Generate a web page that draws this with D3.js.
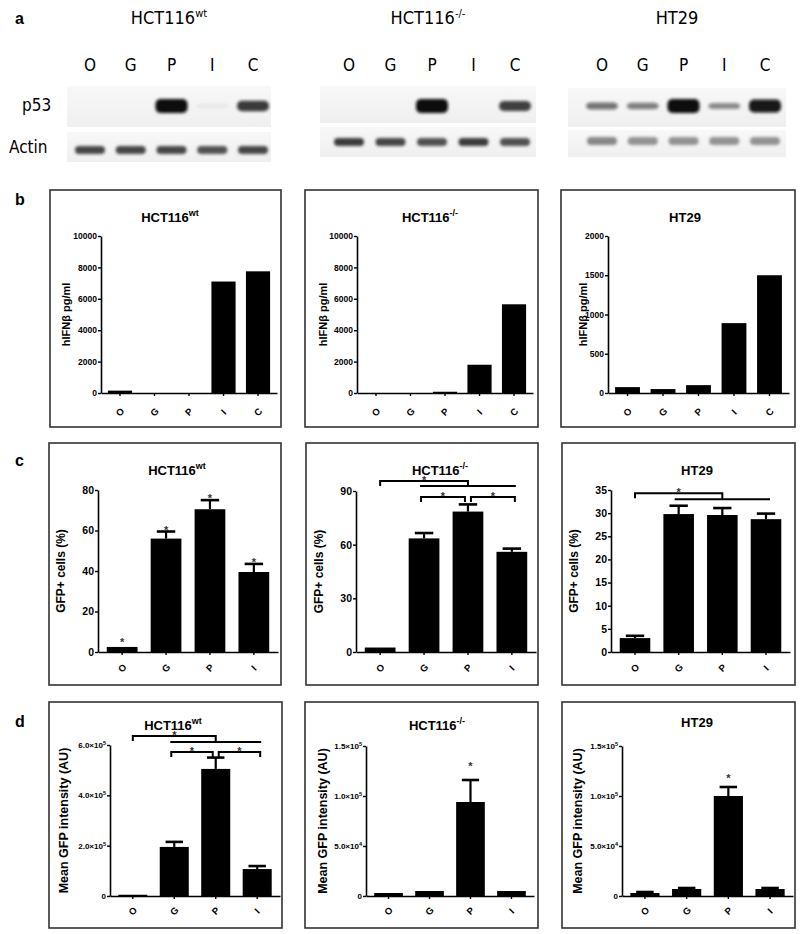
<!DOCTYPE html>
<html>
<head>
<meta charset="utf-8">
<script src="https://cdn.jsdelivr.net/npm/d3@7"></script>
<style>
body{margin:0;background:#fff}
svg{display:block}
.narrow{font-family:"Liberation Sans Narrow","Arial Narrow","DejaVu Sans Condensed",sans-serif}
.chart text{font-family:"Liberation Sans Narrow","Arial Narrow",Arial,sans-serif;font-weight:bold;fill:#000}
</style>
</head>
<body>
<svg id="fig" width="800" height="934"></svg>
<script>
// ---- panel a : western blots (band strength read by eye, 0..1)
var lanes = ["O","G","P","I","C"];
var lineNames = ["HCT116","HCT116","HT29"];
var lineSups = ["wt","-/-",""];
var p53Wt = [0,0,1,0.05,0.8];
var p53Null = [0,0,1,0,0.78];
var p53Ht = [0.55,0.5,1,0.45,0.95];
var actinWt = [0.8,0.8,0.8,0.75,0.8];
var actinNull = [0.85,0.8,0.75,0.85,0.75];
var actinHt = [0.5,0.45,0.45,0.45,0.45];

// ---- panel b : hIFNb pg/ml
var catsB = ["O","G","P","I","C"];
var ifnWt = [150,0,0,7100,7750];
var ifnNull = [0,0,80,1800,5650];
var ifnHt = [75,50,100,890,1500];
var ticksIfn = [0,2000,4000,6000,8000,10000];
var ticksIfnHt = [0,500,1000,1500,2000];

// ---- panel c : GFP+ cells (%)
var catsC = ["O","G","P","I"];
var gfpWt = [2.5,56,70.5,39.5], gfpWtErr = [0,3.5,4.5,4], gfpWtStar = [1,1,1,1];
var gfpNull = [2.5,63.5,78.5,56], gfpNullErr = [0,3,4,1.8];
var gfpHt = [3,29.8,29.6,28.7], gfpHtErr = [0.5,1.8,1.5,1.2];
var ticksGfpWt = [0,20,40,60,80];
var ticksGfpNull = [0,30,60,90];
var ticksGfpHt = [0,5,10,15,20,25,30,35];

// ---- panel d : mean GFP intensity (AU)
var mfiWt = [5000,195000,505000,107000], mfiWtErr = [0,20000,45000,12000];
var mfiNull = [3000,5000,94000,5000], mfiNullErr = [0,0,22000,0], mfiNullStar = [0,0,1,0];
var mfiHt = [3000,7000,100000,7000], mfiHtErr = [1000,1000,9000,1000], mfiHtStar = [0,0,1,0];
var ticksMfiWt = [0,200000,400000,600000];
var ticksMfi = [0,50000,100000,150000];

// significance brackets (levels in data units)
var brGfpNull = [{from:"O",join:"P",span:["G","I"],v1:95.6,v2:92.8},
                 {a:"G",b:"P",v:86.6},{a:"P",b:"I",v:86.6}];
var brGfpHt = [{from:"O",join:"P",span:["G","I"],v1:34.3,v2:33}];
var brMfiWt = [{from:"O",join:"P",span:["G","I"],v1:636000,v2:612000},
               {a:"G",b:"P",v:572000},{a:"P",b:"I",v:572000}];

var svg = d3.select("#fig");
var defs = svg.append("defs");
defs.append("filter").attr("id","blur").attr("x","-50%").attr("y","-150%")
    .attr("width","200%").attr("height","400%")
  .append("feGaussianBlur").attr("stdDeviation",1.6);
var grad = defs.append("linearGradient").attr("id","blotbg").attr("x1",0).attr("x2",0).attr("y1",0).attr("y2",1);
grad.append("stop").attr("offset","0%").attr("stop-color","#f8f8f8");
grad.append("stop").attr("offset","100%").attr("stop-color","#efefef");

// panel letters
[["a",24],["b",205],["c",466],["d",727]].forEach(function(p){
  svg.append("text").attr("x",15).attr("y",p[1])
    .style("font","bold 16px 'Liberation Sans',Arial,sans-serif").text(p[0]);
});

// ================= panel a
var blots = [
  {x0:67,x1:271,l0:90,l1:253,pY:[86,127],aY:[132,162],pC:106,aC:150,p53:p53Wt,act:actinWt},
  {x0:320,x1:536,l0:349,l1:515,pY:[86,123],aY:[127,157],pC:106,aC:142,p53:p53Null,act:actinNull},
  {x0:568,x1:786,l0:602,l1:765,pY:[88,127],aY:[130,157],pC:106,aC:141,p53:p53Ht,act:actinHt}
];

blots.forEach(function(b,k){
  var lx = d3.scalePoint().domain(lanes).range([b.l0,b.l1]);
  var g = svg.append("g").attr("class","narrow");

  var t = g.append("text").attr("x",(b.x0+b.x1)/2).attr("y",24)
    .attr("text-anchor","middle").style("font-size","18px").text(lineNames[k]);
  if(lineSups[k]) t.append("tspan").attr("dy",-7).style("font-size","11px").text(lineSups[k]);

  g.selectAll(".lane").data(lanes).enter().append("text")
    .attr("x",function(d){return lx(d);}).attr("y",71)
    .attr("text-anchor","middle").style("font-size","17px").text(function(d){return d;});

  g.append("rect").attr("x",b.x0).attr("y",b.pY[0]).attr("width",b.x1-b.x0)
    .attr("height",b.pY[1]-b.pY[0]).attr("fill","url(#blotbg)");
  g.append("rect").attr("x",b.x0).attr("y",b.aY[0]).attr("width",b.x1-b.x0)
    .attr("height",b.aY[1]-b.aY[0]).attr("fill","url(#blotbg)");

  g.selectAll(".p53").data(b.p53).enter().append("rect")
    .attr("x",function(d,i){return lx(lanes[i])-16;})
    .attr("width",32)
    .attr("y",function(d){return b.pC-(2+5*d*d);})
    .attr("height",function(d){return 4+10*d*d;})
    .attr("rx",5).attr("fill","#0b0b0b").attr("opacity",function(d){return d;})
    .attr("filter","url(#blur)");

  g.selectAll(".act").data(b.act).enter().append("rect")
    .attr("x",function(d,i){return lx(lanes[i])-15;})
    .attr("width",30)
    .attr("y",b.aC-4).attr("height",8)
    .attr("rx",4).attr("fill","#1a1a1a").attr("opacity",function(d){return d;})
    .attr("filter","url(#blur)");
});
svg.append("text").attr("class","narrow").attr("x",22).attr("y",111).style("font-size","17px").text("p53");
svg.append("text").attr("class","narrow").attr("x",9).attr("y",153).style("font-size","17px").text("Actin");

// ================= bar panels
function sci(v){
  if(v===0) return ["0",""];
  var e = Math.floor(Math.log10(v)+1e-9);
  return [d3.format(".1f")(v/Math.pow(10,e))+"×10", String(e)];
}

var panels = [
  {box:[50,190,231,237],ax:101,x1:277,yTop:236,yBase:393,cats:catsB,vals:ifnWt,ticks:ticksIfn,
   tx:170,ty:222,title:["HCT116","wt"],ylab:"hIFNβ pg/ml",ylx:66,tfs:8.5,lfs:11,xoff:19},
  {box:[305,190,233,237],ax:357,x1:533,yTop:236,yBase:393,cats:catsB,vals:ifnNull,ticks:ticksIfn,
   tx:430,ty:222,title:["HCT116","-/-"],ylab:"hIFNβ pg/ml",ylx:323,tfs:8.5,lfs:11,xoff:19},
  {box:[561,190,234,237],ax:608,x1:789,yTop:236,yBase:393,cats:catsB,vals:ifnHt,ticks:ticksIfnHt,
   tx:685,ty:222,title:["HT29",""],ylab:"hIFNβ pg/ml",ylx:583,tfs:8.5,lfs:11,xoff:19},

  {box:[49,443,232,242],ax:98,x1:278,yTop:490,yBase:652,cats:catsC,vals:gfpWt,err:gfpWtErr,star:gfpWtStar,
   starGap:5,ticks:ticksGfpWt,tx:177,ty:475,title:["HCT116","wt"],ylab:"GFP+ cells (%)",ylx:61,tfs:10.5,lfs:12,xoff:16},
  {box:[306,443,232,242],ax:356,x1:536,yTop:491,yBase:652,cats:catsC,vals:gfpNull,err:gfpNullErr,br:brGfpNull,
   ticks:ticksGfpNull,tx:440,ty:475,title:["HCT116","-/-"],ylab:"GFP+ cells (%)",ylx:319,tfs:10.5,lfs:12,xoff:16},
  {box:[562,443,233,242],ax:611,x1:790,yTop:490,yBase:652,cats:catsC,vals:gfpHt,err:gfpHtErr,br:brGfpHt,
   ticks:ticksGfpHt,tx:697,ty:475,title:["HT29",""],ylab:"GFP+ cells (%)",ylx:574,tfs:10.5,lfs:12,xoff:16},

  {box:[49,702,233,226],ax:110,x1:280,yTop:745,yBase:896,cats:catsC,vals:mfiWt,err:mfiWtErr,br:brMfiWt,
   ticks:ticksMfiWt,sci:true,tx:173,ty:730,title:["HCT116","wt"],ylab:"Mean GFP intensity (AU)",ylx:64,tfs:8,lfs:12.5,xoff:15},
  {box:[305,702,233,226],ax:366,x1:534,yTop:746,yBase:896,cats:catsC,vals:mfiNull,err:mfiNullErr,star:mfiNullStar,
   starGap:17,ticks:ticksMfi,sci:true,tx:437,ty:730,title:["HCT116","-/-"],ylab:"Mean GFP intensity (AU)",ylx:323,tfs:8,lfs:12.5,xoff:15},
  {box:[562,702,233,226],ax:622,x1:793,yTop:746,yBase:896,cats:catsC,vals:mfiHt,err:mfiHtErr,star:mfiHtStar,
   starGap:12,ticks:ticksMfi,sci:true,tx:697,ty:727,title:["HT29",""],ylab:"Mean GFP intensity (AU)",ylx:578,tfs:8,lfs:12.5,xoff:15}
];

panels.forEach(function(p){
  var g = svg.append("g").attr("class","chart");

  g.append("rect").attr("x",p.box[0]).attr("y",p.box[1]).attr("width",p.box[2]).attr("height",p.box[3])
    .attr("fill","none").attr("stroke","#333").attr("stroke-width",1.6);

  var x = d3.scaleBand().domain(p.cats).range([p.ax,p.x1]).paddingInner(0.3).paddingOuter(0.2);
  var y = d3.scaleLinear().domain([0,p.ticks[p.ticks.length-1]]).range([p.yBase,p.yTop]);

  // title
  var t = g.append("text").attr("x",p.tx).attr("y",p.ty).attr("text-anchor","middle")
    .style("font-size","13px").text(p.title[0]);
  if(p.title[1]) t.append("tspan").attr("dy",-6).style("font-size","9px").text(p.title[1]);

  // bars
  g.selectAll(".bar").data(p.vals).enter().append("rect")
    .attr("x",function(d,i){return x(p.cats[i]);})
    .attr("width",x.bandwidth())
    .attr("y",function(d){return y(d);})
    .attr("height",function(d){return p.yBase-y(d);})
    .attr("fill","#000");

  // error bars (upper only)
  if(p.err){
    p.vals.forEach(function(v,i){
      var e = p.err[i]; if(!e) return;
      var cx = x(p.cats[i])+x.bandwidth()/2, w = x.bandwidth()*0.6;
      g.append("line").attr("x1",cx).attr("x2",cx).attr("y1",y(v)).attr("y2",y(v+e))
        .attr("stroke","#000").attr("stroke-width",2.2);
      g.append("line").attr("x1",cx-w/2).attr("x2",cx+w/2).attr("y1",y(v+e)).attr("y2",y(v+e))
        .attr("stroke","#000").attr("stroke-width",2.6);
    });
  }
  if(p.star){
    p.vals.forEach(function(v,i){
      if(!p.star[i]) return;
      var top = Math.min(y(v+(p.err?p.err[i]:0)), p.yBase-8);
      g.append("text").attr("x",x(p.cats[i])+x.bandwidth()/2).attr("y",top-p.starGap+7)
        .attr("text-anchor","middle").style("font-size","11px").style("fill","#333").text("*");
    });
  }

  // brackets
  if(p.br){
    var cxOf = function(c){return x(c)+x.bandwidth()/2;};
    p.br.forEach(function(b){
      var path, sx, sy;
      if(b.from){
        var y1 = y(b.v1), y2 = y(b.v2);
        path = "M"+cxOf(b.from)+","+(y1+5)+"V"+y1+"H"+cxOf(b.join)+"V"+y2+
               "M"+(cxOf(b.span[0])-4)+","+y2+"H"+(cxOf(b.span[1])+4);
        sx = (cxOf(b.from)+cxOf(b.join))/2; sy = y1;
      } else {
        var yy = y(b.v);
        var xa = cxOf(b.a)+(b.a==="P"?3:-3), xb = cxOf(b.b)+(b.b==="P"?-3:3);
        path = "M"+xa+","+(yy+5)+"V"+yy+"H"+xb+"V"+(yy+5);
        sx = (xa+xb)/2; sy = yy;
      }
      g.append("path").attr("d",path).attr("fill","none").attr("stroke","#000").attr("stroke-width",2);
      g.append("text").attr("x",sx).attr("y",sy+3).attr("text-anchor","middle")
        .style("font-size","11px").style("fill","#333").text("*");
    });
  }

  // axes
  var ya = d3.axisLeft(y).tickValues(p.ticks).tickSize(3).tickSizeOuter(0).tickPadding(1);
  if(!p.sci) ya.tickFormat(d3.format("d"));
  var yg = g.append("g").attr("transform","translate("+p.ax+",0)").call(ya);
  if(p.sci){
    yg.selectAll(".tick text").each(function(d){
      var s = sci(d), tt = d3.select(this).text(s[0]);
      if(s[1]) tt.append("tspan").attr("dy",-3).style("font-size","5.5px").text(s[1]);
    });
  }
  yg.selectAll(".tick text").style("font-size",p.tfs+"px").style("font-weight","bold");

  var xa = d3.axisBottom(x).tickSize(3).tickSizeOuter(0).tickFormat("");
  var xg = g.append("g").attr("transform","translate(0,"+p.yBase+")").call(xa);
  [yg,xg].forEach(function(a){
    a.select(".domain").attr("stroke","#000").attr("stroke-width",1.6);
    a.selectAll(".tick line").attr("stroke","#000").attr("stroke-width",1.4);
  });

  // rotated category labels
  g.selectAll(".xl").data(p.cats).enter().append("text")
    .attr("transform",function(d){
      return "translate("+(x(d)+x.bandwidth()/2)+","+(p.yBase+p.xoff)+") rotate(-45)";
    })
    .attr("text-anchor","middle").attr("dy","0.35em")
    .style("font-size","9.5px").text(function(d){return d;});

  // y title
  g.append("text")
    .attr("transform","translate("+p.ylx+","+((p.yTop+p.yBase)/2)+") rotate(-90)")
    .attr("text-anchor","middle").attr("dy","0.35em")
    .style("font-size",p.lfs+"px").text(p.ylab);
});
</script>
</body>
</html>
